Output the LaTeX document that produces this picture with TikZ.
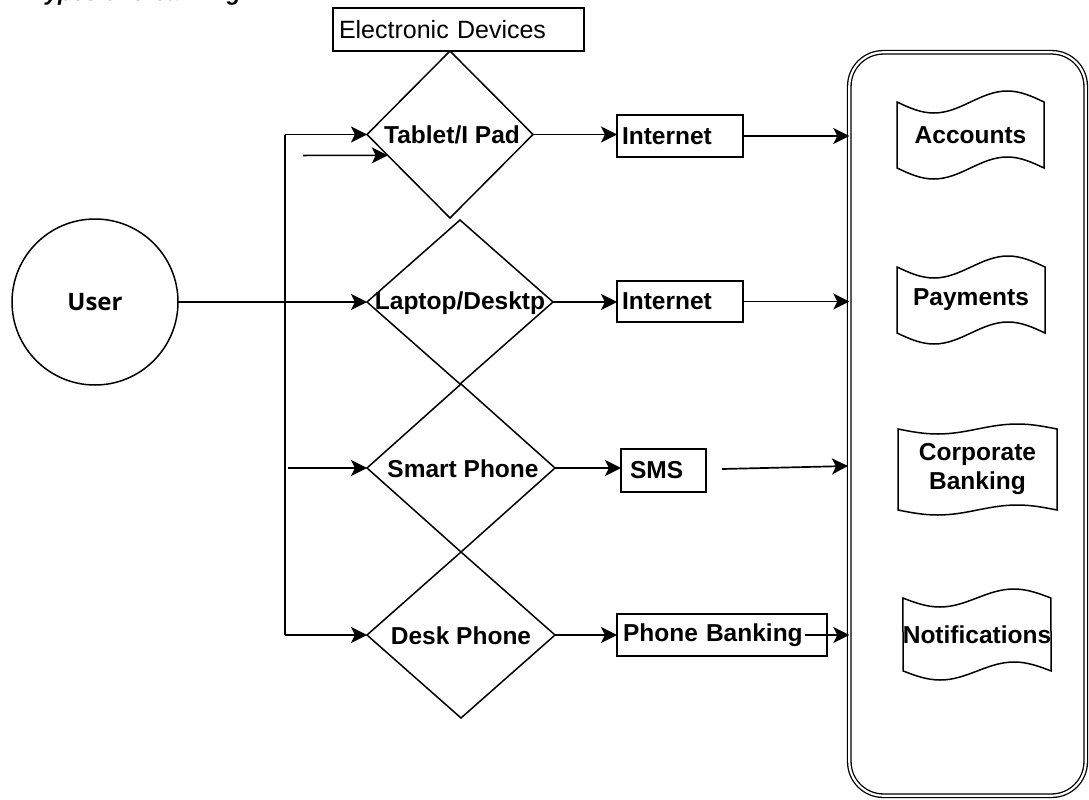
\documentclass[tikz,border=0pt]{standalone}
\usepackage{fontspec}
\setmainfont{Liberation Sans}
\newfontfamily\userfont{Open Sans}
\usetikzlibrary{shapes.geometric,arrows.meta,calc}
\newcommand{\wavydoc}[3]{%
  \draw[docline] (#1.north west) sin ++(#2,#3) cos ++(#2,-#3) sin ++(#2,-#3) cos ++(#2,#3)
    -- (#1.south east) sin ++(-#2,-#3) cos ++(-#2,#3) sin ++(-#2,#3) cos ++(-#2,-#3) -- cycle;}
\begin{document}
\begin{tikzpicture}[x=1pt,y=-1pt,
  every node/.style={font=\fontsize{24.5}{28}\selectfont\bfseries},
  ln/.style={line width=1.7pt, black},
  arr/.style={ln, -{Stealth[length=16pt,width=16pt,inset=4pt]}},
  dia/.style={draw, diamond, line width=1.5pt, inner sep=0pt, outer sep=0pt},
  box/.style={draw, line width=1.6pt, inner ysep=0pt, align=left, anchor=north west, outer sep=0pt},
  docline/.style={line width=1.5pt, black},
  doc/.style={inner sep=0pt, outer sep=0pt, align=center},
  lbl/.style={inner sep=0pt},
  container/.style={draw, double, double distance=2.2pt, line width=1.3pt, rounded corners=34pt, inner sep=0pt, outer sep=0pt}
]
\useasboundingbox (0,0) rectangle (1089,800);
\clip (0,0) rectangle (1089,800);

% title (cut off at top)
\node[anchor=base west, inner sep=0pt, font=\fontsize{23}{28}\selectfont\bfseries\itshape] (title) at (32,1) {Types of e-banking};

% container
\node[container, minimum width=236.4pt, minimum height=743.4pt] (cont) at (967.5,424) {};

% documents
\node[doc, minimum width=147pt, minimum height=66pt] (acc) at (970.5,135) {Accounts};
\wavydoc{acc}{36.75}{11}
\node[doc, minimum width=148pt, minimum height=66pt] (pay) at (971,300) {Payments};
\wavydoc{pay}{37}{11}
\node[doc, minimum width=159pt, minimum height=81pt] (corp) at (977.5,469.5) {Corporate\\[1pt]Banking};
\wavydoc{corp}{39.75}{5}
\node[doc, minimum width=148pt, minimum height=73pt] (noti) at (977,634.5) {Notifications};
\wavydoc{noti}{37}{9}

% user
\node[draw, circle, line width=1.5pt, minimum size=166pt, inner sep=0pt, outer sep=0pt, font=\fontsize{24}{28}\userfont\bfseries] (user) at (95,302) {User};

% electronic devices label
\node[box, inner xsep=6pt, text width=239pt, minimum height=43pt, font=\fontsize{25}{28}\selectfont] (ed) at (333,8) {Electronic Devices};

% diamonds
\node[dia, minimum width=166pt, minimum height=167pt] (tab) at (450,134.5) {};
\node[lbl] (tabt) at (452,135) {Tablet/I Pad};
\node[dia, minimum width=186pt, minimum height=164pt] (lap) at (460,302) {};
\node[lbl] (lapt) at (460,303) {Laptop/Desktp};
\node[dia, minimum width=188pt, minimum height=168pt] (sp) at (461,468) {};
\node[lbl] (spt) at (463,469) {Smart Phone};
\node[dia, minimum width=188pt, minimum height=166pt] (desk) at (461,635) {};
\node[lbl] (deskt) at (461,636) {Desk Phone};

% channel boxes
\node[box, inner xsep=5pt, text width=116pt, minimum height=42pt] (i1) at (617,115) {Internet};
\node[box, inner xsep=5pt, text width=116pt, minimum height=41pt] (i2) at (617,281) {Internet};
\node[box, inner xsep=9pt, text width=67pt, minimum height=43pt] (sms) at (621,449) {SMS};
\node[box, inner xsep=6pt, text width=198pt, minimum height=42pt] (pb) at (617,614) {Phone Banking};

% left connectors
\coordinate (tk) at (285,0);
\draw[ln] (tab.west -| tk) -- (desk.west -| tk);
\draw[arr] (tab.west -| tk) -- (tab.west);
\draw[arr] (desk.west -| tk) -- (desk.west);
\draw[arr] (user.east) -- (lap.west);
\coordinate (spS) at (288,468);
\draw[arr] (spS) -- (sp.west);
\coordinate (tbS) at (303,155.4);
\coordinate (tbE) at ($(tab.west)!0.25!(tab.south)$);
\draw[arr] (tbS) -- (tbE);

% device to channel
\draw[arr] (tab.east) -- (tab.east -| i1.west);
\draw[arr] (lap.east) -- (lap.east -| i2.west);
\draw[arr] (sp.east) -- (sp.east -| sms.west);
\draw[arr] (desk.east) -- (desk.east -| pb.west);

% channel to services
\draw[arr] (i1.east) -- (i1.east -| cont.west);
\draw[arr] (i2.east) -- (i2.east -| cont.west);
\coordinate (smsS) at (722,469);
\coordinate (smsE) at (848,466);
\draw[arr] (smsS) -- (smsE);
\coordinate (pbS) at (805,635);
\draw[arr] (pbS) -- (pbS -| cont.west);
\end{tikzpicture}
\end{document}
